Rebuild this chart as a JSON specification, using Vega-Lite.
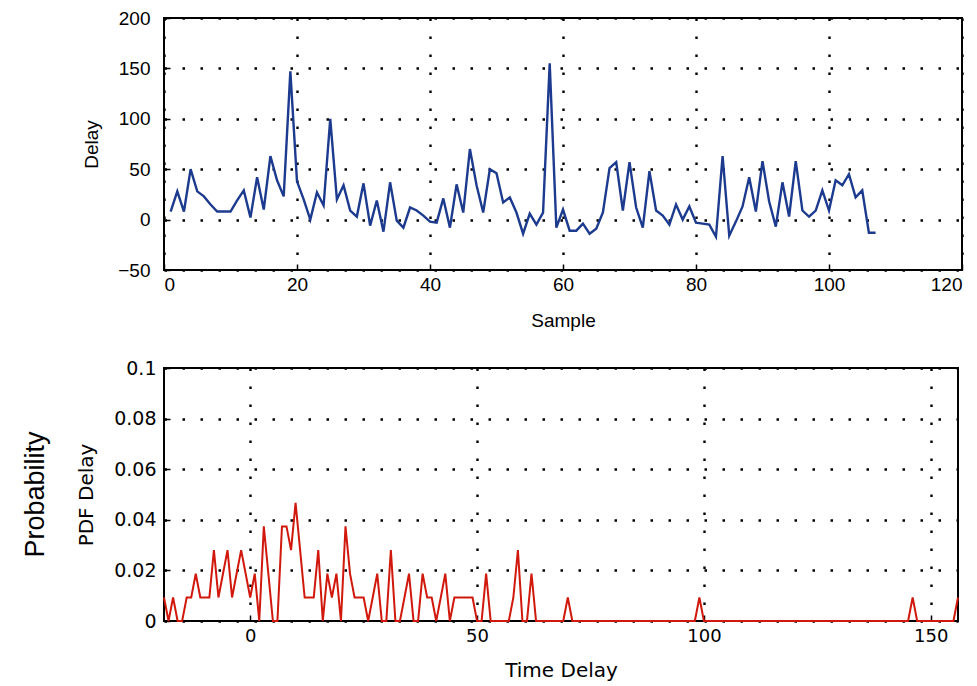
{
  "$schema": "https://vega.github.io/schema/vega-lite/v6.json",
  "background": "white",
  "padding": {"left": 20, "top": 8, "right": 10, "bottom": 5},
  "bounds": "flush",
  "spacing": 98,
  "config": {
    "view": {"stroke": "#000", "strokeWidth": 2},
    "axis": {
      "domain": false, "grid": true, "gridColor": "#000", "gridDash": [2.5, 15.5], "gridWidth": 2.4, "gridOpacity": 1,
      "ticks": true, "tickColor": "#000", "tickSize": -6, "tickWidth": 1.5,
      "labelFont": "Liberation Sans", "labelFontSize": 19, "labelColor": "#000", "labelPadding": 12,
      "titleFont": "Liberation Sans", "titleFontSize": 19, "titleFontWeight": "normal", "titleColor": "#000"
    }
  },
  "vconcat": [
    {
      "width": 798, "height": 252,
      "data": {"values": [
        {"sample":1,"delay":8},{"sample":2,"delay":28},{"sample":3,"delay":8},{"sample":4,"delay":50},{"sample":5,"delay":28},
        {"sample":6,"delay":23},{"sample":7,"delay":15},{"sample":8,"delay":8},{"sample":9,"delay":8},{"sample":10,"delay":8},
        {"sample":11,"delay":19},{"sample":12,"delay":29},{"sample":13,"delay":2},{"sample":14,"delay":42},{"sample":15,"delay":10},
        {"sample":16,"delay":63},{"sample":17,"delay":39},{"sample":18,"delay":23},{"sample":19,"delay":147},{"sample":20,"delay":38},
        {"sample":21,"delay":20},{"sample":22,"delay":0},{"sample":23,"delay":27},{"sample":24,"delay":14},{"sample":25,"delay":100},
        {"sample":26,"delay":20},{"sample":27,"delay":34},{"sample":28,"delay":9},{"sample":29,"delay":3},{"sample":30,"delay":36},
        {"sample":31,"delay":-6},{"sample":32,"delay":19},{"sample":33,"delay":-12},{"sample":34,"delay":37},{"sample":35,"delay":-1},
        {"sample":36,"delay":-8},{"sample":37,"delay":12},{"sample":38,"delay":9},{"sample":39,"delay":4},{"sample":40,"delay":-2},
        {"sample":41,"delay":-3},{"sample":42,"delay":21},{"sample":43,"delay":-8},{"sample":44,"delay":35},{"sample":45,"delay":7},
        {"sample":46,"delay":70},{"sample":47,"delay":34},{"sample":48,"delay":7},{"sample":49,"delay":50},{"sample":50,"delay":46},
        {"sample":51,"delay":17},{"sample":52,"delay":22},{"sample":53,"delay":7},{"sample":54,"delay":-14},{"sample":55,"delay":6},
        {"sample":56,"delay":-5},{"sample":57,"delay":7},{"sample":58,"delay":155},{"sample":59,"delay":-8},{"sample":60,"delay":10},
        {"sample":61,"delay":-11},{"sample":62,"delay":-11},{"sample":63,"delay":-4},{"sample":64,"delay":-14},{"sample":65,"delay":-9},
        {"sample":66,"delay":7},{"sample":67,"delay":51},{"sample":68,"delay":57},{"sample":69,"delay":9},{"sample":70,"delay":57},
        {"sample":71,"delay":12},{"sample":72,"delay":-8},{"sample":73,"delay":48},{"sample":74,"delay":9},{"sample":75,"delay":4},
        {"sample":76,"delay":-5},{"sample":77,"delay":15},{"sample":78,"delay":0},{"sample":79,"delay":13},{"sample":80,"delay":-3},
        {"sample":81,"delay":-4},{"sample":82,"delay":-5},{"sample":83,"delay":-17},{"sample":84,"delay":63},{"sample":85,"delay":-16},
        {"sample":86,"delay":-2},{"sample":87,"delay":13},{"sample":88,"delay":42},{"sample":89,"delay":8},{"sample":90,"delay":58},
        {"sample":91,"delay":18},{"sample":92,"delay":-7},{"sample":93,"delay":37},{"sample":94,"delay":3},{"sample":95,"delay":58},
        {"sample":96,"delay":9},{"sample":97,"delay":3},{"sample":98,"delay":9},{"sample":99,"delay":29},{"sample":100,"delay":9},
        {"sample":101,"delay":39},{"sample":102,"delay":34},{"sample":103,"delay":45},{"sample":104,"delay":22},{"sample":105,"delay":29},
        {"sample":106,"delay":-13},{"sample":107,"delay":-13}
      ]},
      "mark": {"type": "line", "color": "#1c3a8e", "strokeWidth": 2.4},
      "encoding": {
        "x": {"field": "sample", "type": "quantitative", "scale": {"domain": [0, 120], "nice": false},
              "axis": {"values": [0, 20, 40, 60, 80, 100, 120], "title": "Sample", "titlePadding": 17, "labelPadding": 11}},
        "y": {"field": "delay", "type": "quantitative", "scale": {"domain": [-50, 200], "nice": false},
              "axis": {"values": [-50, 0, 50, 100, 150, 200], "format": "d", "title": "Delay", "titlePadding": 16, "labelPadding": 20}}
      }
    },
    {
      "width": 794, "height": 253,
      "title": {"text": "Probability", "orient": "left", "anchor": "middle", "fontSize": 27, "font": "Liberation Sans", "fontWeight": "normal", "color": "#000", "offset": 27},
      "data": {"values": [
        {"t":-19,"p":0.0093},{"t":-18,"p":0},{"t":-17,"p":0.0093},{"t":-16,"p":0},{"t":-15,"p":0},
        {"t":-14,"p":0.0093},{"t":-13,"p":0.0093},{"t":-12,"p":0.0187},{"t":-11,"p":0.0093},{"t":-10,"p":0.0093},
        {"t":-9,"p":0.0093},{"t":-8,"p":0.028},{"t":-7,"p":0.0093},{"t":-6,"p":0.0187},{"t":-5,"p":0.028},
        {"t":-4,"p":0.0093},{"t":-3,"p":0.0187},{"t":-2,"p":0.028},{"t":-1,"p":0.0187},{"t":0,"p":0.0093},
        {"t":1,"p":0.0187},{"t":2,"p":0},{"t":3,"p":0.0374},{"t":4,"p":0.0187},{"t":5,"p":0},
        {"t":6,"p":0},{"t":7,"p":0.0374},{"t":8,"p":0.0374},{"t":9,"p":0.028},{"t":10,"p":0.0467},
        {"t":11,"p":0.028},{"t":12,"p":0.0093},{"t":13,"p":0.0093},{"t":14,"p":0.0093},{"t":15,"p":0.028},
        {"t":16,"p":0},{"t":17,"p":0.0187},{"t":18,"p":0.0093},{"t":19,"p":0.0187},{"t":20,"p":0},
        {"t":21,"p":0.0374},{"t":22,"p":0.0187},{"t":23,"p":0.0093},{"t":24,"p":0.0093},{"t":25,"p":0.0093},
        {"t":26,"p":0},{"t":27,"p":0.0093},{"t":28,"p":0.0187},{"t":29,"p":0},{"t":30,"p":0},
        {"t":31,"p":0.028},{"t":32,"p":0},{"t":33,"p":0},{"t":34,"p":0.0093},{"t":35,"p":0.0187},
        {"t":36,"p":0},{"t":37,"p":0},{"t":38,"p":0.0187},{"t":39,"p":0.0093},{"t":40,"p":0.0093},
        {"t":41,"p":0},{"t":42,"p":0.0093},{"t":43,"p":0.0187},{"t":44,"p":0},{"t":45,"p":0.0093},
        {"t":46,"p":0.0093},{"t":47,"p":0.0093},{"t":48,"p":0.0093},{"t":49,"p":0.0093},{"t":50,"p":0},
        {"t":51,"p":0},{"t":52,"p":0.0187},{"t":53,"p":0},{"t":57,"p":0},{"t":58,"p":0.0093},
        {"t":59,"p":0.028},{"t":60,"p":0},{"t":61,"p":0},{"t":62,"p":0.0187},{"t":63,"p":0},
        {"t":69,"p":0},{"t":70,"p":0.0093},{"t":71,"p":0},{"t":98,"p":0},{"t":99,"p":0.0093},
        {"t":100,"p":0},{"t":145,"p":0},{"t":146,"p":0.0093},{"t":147,"p":0},{"t":155,"p":0},
        {"t":156,"p":0.0093}
      ]},
      "mark": {"type": "line", "color": "#d0180c", "strokeWidth": 2},
      "encoding": {
        "x": {"field": "t", "type": "quantitative", "scale": {"domain": [-19, 156], "nice": false, "zero": false},
              "axis": {"values": [0, 50, 100, 150], "title": "Time Delay", "titlePadding": 15, "labelPadding": 12,
                       "labelFont": "DejaVu Sans", "labelFontSize": 18, "titleFont": "DejaVu Sans", "titleFontSize": 20}},
        "y": {"field": "p", "type": "quantitative", "scale": {"domain": [0, 0.1], "nice": false},
              "axis": {"values": [0, 0.02, 0.04, 0.06, 0.08, 0.1], "format": "~g", "title": "PDF Delay", "titlePadding": 17, "labelPadding": 14,
                       "labelFont": "DejaVu Sans", "labelFontSize": 19, "titleFont": "DejaVu Sans", "titleFontSize": 20}}
      }
    }
  ]
}
